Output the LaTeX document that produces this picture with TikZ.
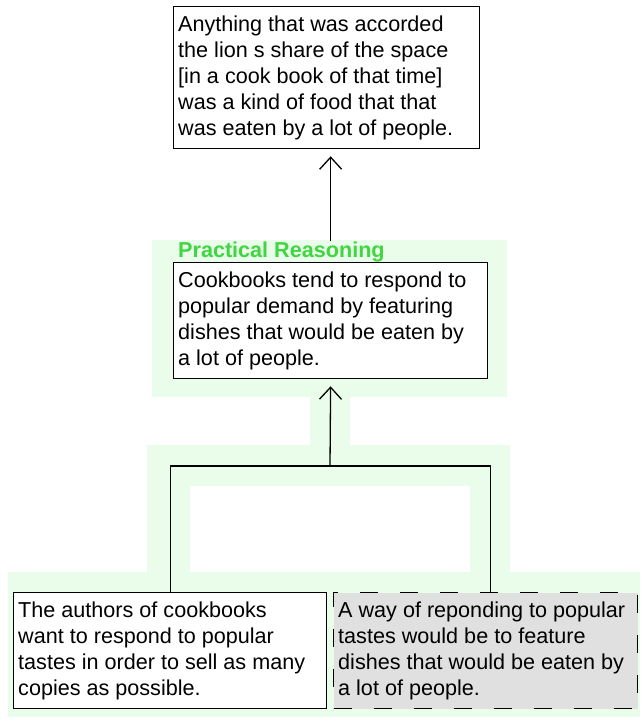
\documentclass[tikz,border=0pt]{standalone}
\usepackage{fontspec}
\setmainfont{Liberation Sans}
\usetikzlibrary{arrows.meta}
\definecolor{schemegreen}{RGB}{234,253,234}
\definecolor{labelgreen}{RGB}{64,214,64}
\definecolor{premisegray}{RGB}{224,224,224}

\begin{document}
\begin{tikzpicture}[x=1pt,y=-1pt,
  frame/.style={draw, fill=white, line width=1.3pt, rectangle, anchor=north west, inner sep=0pt},
  txt/.style={anchor=west, inner sep=0pt, align=left,
    font=\fontsize{21.6}{26}\selectfont},
  arr/.style={line width=1.3pt, shorten >=7pt,
    -{Straight Barb[length=12pt,width=22pt,line width=1.3pt]}},
  link/.style={line width=1.3pt},
]
\useasboundingbox (0,0) rectangle (640,719);
\fill[white] (0,0) rectangle (640,719);

% highlight of the reasoning scheme
\fill[schemegreen] (152,240) rectangle (507,397);
\fill[schemegreen] (310,397) rectangle (350,445);
\fill[schemegreen] (147,445) rectangle (510,572);
\fill[white] (190,486) rectangle (470,572);
\fill[schemegreen] (8,572) rectangle (640,717);

% conclusion
\node[frame, minimum width=306pt, minimum height=142pt] (top) at (173,6) {};
\node[txt] (toptext) at ([xshift=5pt]top.west)
  {Anything that was accorded\\the lion s share of the space\\{}[in a cook book of that time]\\was a kind of food that that\\was eaten by a lot of people.};

% intermediate claim with its scheme label
\node[frame, minimum width=314pt, minimum height=116pt] (mid) at (173,262) {};
\node[txt] (midtext) at ([xshift=5pt]mid.west)
  {Cookbooks tend to respond to\\popular demand by featuring\\dishes that would be eaten by\\a lot of people.};
\node[font=\bfseries\fontsize{21.6}{26}\selectfont, text=labelgreen,
  anchor=base west, inner sep=0pt] (prlab) at (178,257) {Practical Reasoning};

% premises
\node[frame, minimum width=313pt, minimum height=116pt] (bl) at (13,592) {};
\node[txt] (bltext) at ([xshift=5pt]bl.west)
  {The authors of cookbooks\\want to respond to popular\\tastes in order to sell as many\\copies as possible.};
\node[frame, fill=premisegray, dash pattern=on 18pt off 22pt,
  minimum width=304pt, minimum height=116pt] (br) at (333,592) {};
\node[txt] (brtext) at ([xshift=5pt]br.west)
  {A way of reponding to popular\\tastes would be to feature\\dishes that would be eaten by\\a lot of people.};

% connectors
\coordinate (j) at (330,466);
\draw[link] (bl.north) |- (j) -| ([xshift=5pt]br.north);
\draw[arr] (j) -- (mid.south);
\draw[arr] (mid.north |- prlab.north) -- (top.south -| mid.north);
\end{tikzpicture}
\end{document}
